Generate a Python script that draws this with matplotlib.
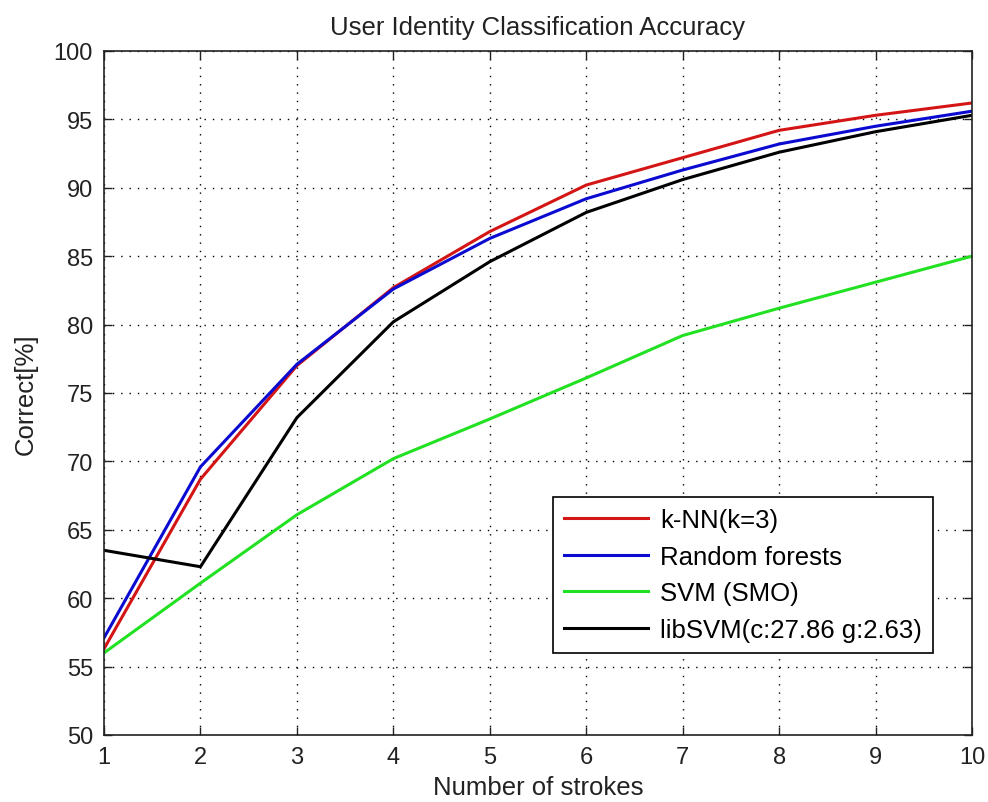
"""
Accuracy of user identity classification vs. number of strokes.
"""
import matplotlib
matplotlib.use("Agg")
import matplotlib.pyplot as plt

strokes = [1, 2, 3, 4, 5, 6, 7, 8, 9, 10]
knn = [56.3, 68.7, 77.0, 82.7, 86.8, 90.2, 92.2, 94.2, 95.3, 96.2]
random_forest = [57.1, 69.6, 77.1, 82.6, 86.3, 89.2, 91.3, 93.2, 94.5, 95.6]
svm_smo = [56.0, 61.1, 66.1, 70.2, 73.1, 76.1, 79.2, 81.2, 83.1, 85.0]
libsvm = [63.5, 62.3, 73.2, 80.2, 84.6, 88.2, 90.6, 92.6, 94.1, 95.3]

series_names = ["k-NN(k=3)", "Random forests", "SVM (SMO)", "libSVM(c:27.86 g:2.63)"]
series_colors = ["#d41515", "#0a0ad0", "#22e022", "#000000"]

plt.rcParams["font.family"] = ["Liberation Sans", "DejaVu Sans"]
text_color = "#222222"

fig = plt.figure(figsize=(9.88, 8.03), dpi=100)
ax = fig.add_axes([104 / 988, 1 - 736 / 803, 868 / 988, 684 / 803])

for values, name, color in zip([knn, random_forest, svm_smo, libsvm], series_names, series_colors):
    ax.plot(strokes, values, color=color, linewidth=2.2, label=name)

ax.set_xlim(1, 10)
ax.set_ylim(50, 100)
ax.set_xticks(strokes)
ax.set_yticks(range(50, 101, 5))
ax.tick_params(direction="in", length=6, width=1, top=True, right=True,
               labelsize=17, pad=8, colors=text_color)
for side in ax.spines.values():
    side.set_linewidth(1.2)
    side.set_color(text_color)
ax.grid(True, color="black", linestyle=(0, (1, 5)), linewidth=1.0)

ax.set_title("User Identity Classification Accuracy", fontsize=18.5, pad=12, color=text_color)
ax.set_xlabel("Number of strokes", fontsize=18.5, labelpad=5, color=text_color)
ax.set_ylabel("Correct[%]", fontsize=18.5, labelpad=11, color=text_color)

leg = ax.legend(loc="upper left", bbox_to_anchor=(0.517, 0.348), fontsize=18.5,
                frameon=True, fancybox=False, edgecolor="black", framealpha=1,
                handlelength=3.3, handletextpad=0.45, borderpad=0.42,
                labelspacing=0.5, borderaxespad=0)
leg.get_frame().set_linewidth(1.2)

fig.savefig("out.png", dpi=100)
